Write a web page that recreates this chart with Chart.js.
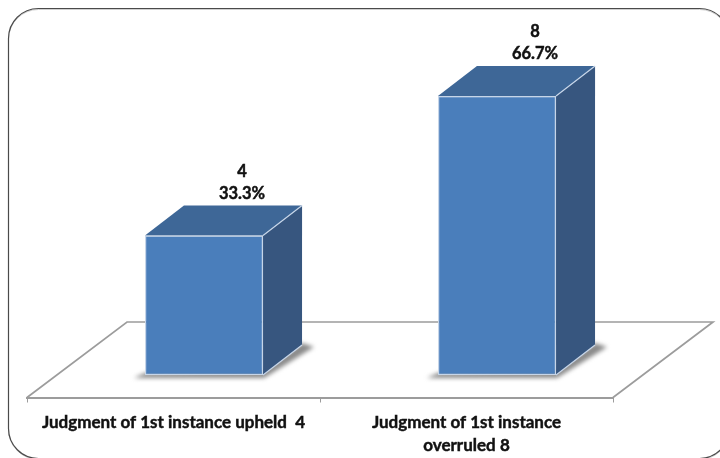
<!DOCTYPE html>
<html>
<head>
<meta charset="utf-8">
<script src="https://cdn.jsdelivr.net/npm/chart.js@4"></script>
<style>
    html, body { margin: 0; padding: 0; background: #fff; }
    #wrap { width: 720px; height: 458px; overflow: hidden; }
</style>
</head>
<body>
<div id="wrap"><canvas id="chart" width="720" height="458"></canvas></div>
<script>
var categories = [["Judgment of 1st instance upheld  4"], ["Judgment of 1st instance", "overruled 8"]];
var counts = [4, 8];
var shares = ["33.3%", "66.7%"];

// the bars stand in the middle of the floor, floor depth is twice that
var liftX = 30.5, liftY = 22.5;
var depthX = 39, depthY = 30;

function poly(ctx, pts, fill) {
    ctx.beginPath();
    pts.forEach(function(p, i) {
        if (i == 0) ctx.moveTo(p[0], p[1]); else ctx.lineTo(p[0], p[1]);
    });
    ctx.closePath();
    ctx.fillStyle = fill;
    ctx.fill();
}

var box3d = {
    id: "box3d",
    beforeDraw: function(chart) {
        // rounded frame, runs off the page on the right and at the bottom
        var ctx = chart.ctx;
        ctx.save();
        ctx.beginPath();
        ctx.roundRect(8.5, 9.5, 721, 450, 30);
        ctx.strokeStyle = "#d0d0d0";
        ctx.lineWidth = 1;
        ctx.stroke();
        ctx.beginPath();
        ctx.roundRect(8.5, 8.5, 721, 450, 30);
        ctx.strokeStyle = "#4a4a4a";
        ctx.lineWidth = 1.2;
        ctx.stroke();
        ctx.restore();
    },
    beforeDatasetDraw: function(chart) {
        var ctx = chart.ctx;
        var area = chart.chartArea;
        var y0 = area.bottom;

        ctx.save();
        ctx.strokeStyle = "#9c9c9c";
        ctx.lineWidth = 1.7;
        ctx.beginPath();
        ctx.moveTo(area.left, y0);
        ctx.lineTo(area.left + liftX * 2 + 39, y0 - 75.5);
        ctx.lineTo(area.right + liftX * 2 + 39, y0 - 75.5);
        ctx.lineTo(area.right, y0);
        ctx.stroke();
        ctx.restore();

        ctx.save();
        ctx.translate(liftX, -liftY);
        chart.getDatasetMeta(0).data.forEach(function(bar) {
            var l = bar.x - bar.width / 2, r = bar.x + bar.width / 2;
            var t = bar.y, b = bar.base;

            ctx.save();
            ctx.filter = "blur(2px)";
            poly(ctx, [[l - 11, b + 3], [r + 1, b + 3], [r + depthX + 12, b - depthY + 2], [r + depthX, b - depthY - 2], [r, b - 4], [l, b - 2]], "#8a8a8a");
            ctx.restore();

            poly(ctx, [[l, t], [l + depthX, t - depthY], [r + depthX, t - depthY], [r, t]], "#3e6797");
            poly(ctx, [[r, t], [r + depthX, t - depthY], [r + depthX, b - depthY], [r, b]], "#37567f");

            ctx.strokeStyle = "#c6d5e8";
            ctx.lineWidth = 1.2;
            ctx.beginPath();
            ctx.moveTo(r, t);
            ctx.lineTo(r + depthX, t - depthY);
            ctx.moveTo(r, b);
            ctx.lineTo(r + depthX, b - depthY);
            ctx.stroke();
        });
        ctx.restore();

        // front faces are the real bars, moved back onto the floor
        ctx.save();
        ctx.translate(liftX, -liftY);
    },
    afterDatasetDraw: function(chart) {
        var ctx = chart.ctx;
        ctx.restore();

        ctx.save();
        ctx.font = "bold 16.5px Lato";
        ctx.fillStyle = "#111";
        ctx.strokeStyle = "#111";
        ctx.lineWidth = 0.45;
        ctx.textAlign = "center";
        ctx.textBaseline = "middle";
        chart.getDatasetMeta(0).data.forEach(function(bar, i) {
            var x = bar.x + liftX + 38;
            var t = bar.y - liftY;
            ctx.fillText(String(counts[i]), x, t - 64);
            ctx.strokeText(String(counts[i]), x, t - 64);
            ctx.fillText(shares[i], x, t - 42);
            ctx.strokeText(shares[i], x, t - 42);
        });
        ctx.restore();
    }
};

new Chart(document.getElementById("chart").getContext("2d"), {
    type: "bar",
    data: {
        labels: categories,
        datasets: [{
            data: counts,
            backgroundColor: "#4a7ebb",
            borderColor: "#c6d5e8",
            borderWidth: 1.2,
            borderSkipped: false,
            categoryPercentage: 1,
            barPercentage: 0.403,
            clip: false
        }]
    },
    options: {
        responsive: false,
        animation: false,
        layout: { padding: { left: 27, right: 107, top: 48.75, bottom: 0 } },
        plugins: { legend: { display: false }, tooltip: { enabled: false } },
        scales: {
            x: {
                afterFit: function(scale) { scale.height = 60.5; },
                border: { color: "#9c9c9c", width: 2 },
                grid: { offset: true, drawOnChartArea: false, color: "#9c9c9c", tickLength: 5 },
                ticks: {
                    color: "#111",
                    textStrokeColor: "#111",
                    textStrokeWidth: 0.45,
                    padding: 9,
                    maxRotation: 0,
                    autoSkip: false,
                    font: { family: "Lato", size: 17, weight: "bold", lineHeight: 1.35 }
                }
            },
            y: { display: false, min: 0, max: 10 }
        }
    },
    plugins: [box3d]
});
</script>
</body>
</html>
